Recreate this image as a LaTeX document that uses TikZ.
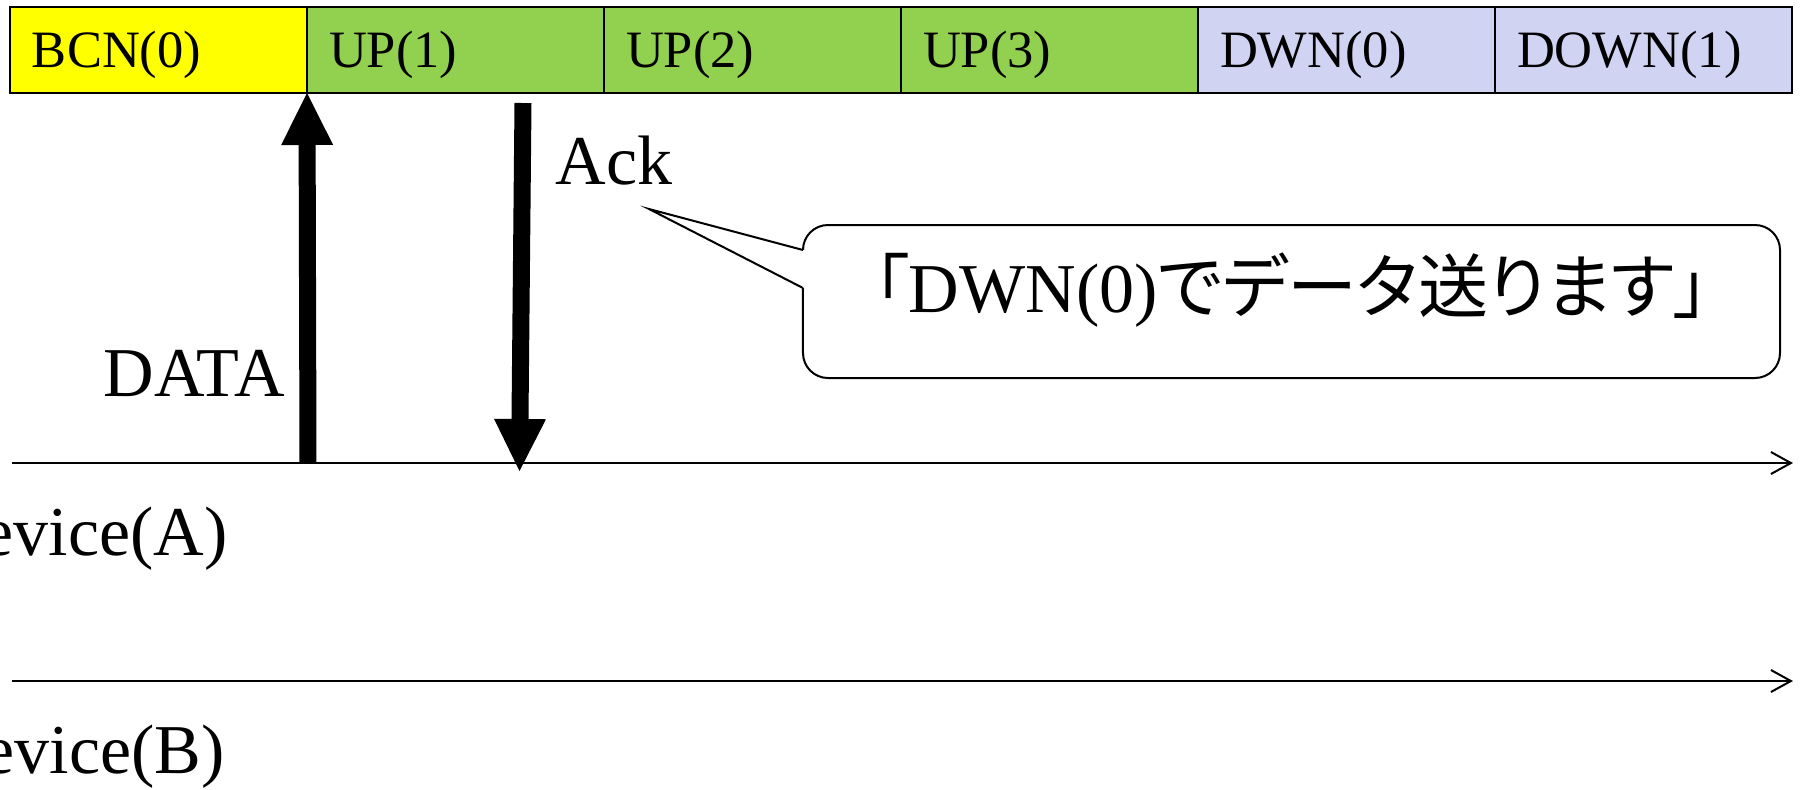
\documentclass[tikz,border=0pt]{standalone}
\usepackage{fontspec}
\setmainfont{Liberation Serif}
\newfontfamily\jpfont{Noto Sans CJK JP}[RawFeature={+palt}]
\usetikzlibrary{arrows.meta}
\definecolor{bcnyellow}{RGB}{255,255,0}
\definecolor{upgreen}{RGB}{146,208,80}
\definecolor{dwnblue}{RGB}{209,211,243}
\begin{document}
\begin{tikzpicture}[x=0.4pt,y=-0.4pt,
  cell/.style={draw, line width=1pt, anchor=north west, outer sep=0pt,
    inner ysep=0pt, inner xsep=8.8pt, text width=101.2pt, minimum height=34.4pt,
    align=left, text height=16.4pt, text depth=2.1pt,
    font=\fontsize{21pt}{25pt}\selectfont},
  bigtext/.style={font=\fontsize{28pt}{33pt}\selectfont, inner sep=0pt},
  axisline/.style={line width=0.8pt, -{Straight Barb[length=8pt,width=8.8pt]}},
  msgarrow/.style={line width=6.8pt, -{Triangle[length=20.8pt,width=20.8pt,line width=0pt]}},
  calloutbox/.style={draw, line width=0.8pt, rounded corners=10pt, fill=white,
    minimum width=390.8pt, minimum height=61.2pt, inner sep=0pt,
    text height=20pt, text depth=11.6pt, font=\fontsize{28pt}{33pt}\selectfont},
  ]
\useasboundingbox (0,0) rectangle (1802,789);
\clip (0,0) rectangle (1802,789);

% slot bar
\node[cell, fill=bcnyellow] (bcn) at (10,7) {BCN(0)};
\node[cell, fill=upgreen] (up1) at (bcn.north east) {UP(1)};
\node[cell, fill=upgreen] (up2) at (up1.north east) {UP(2)};
\node[cell, fill=upgreen] (up3) at (up2.north east) {UP(3)};
\node[cell, fill=dwnblue] (dwn0) at (up3.north east) {DWN(0)};
\node[cell, fill=dwnblue] (down1) at (dwn0.north east) {DOWN(1)};

% time axes
\coordinate (aS) at (12,463);
\coordinate (aE) at (1793,463);
\coordinate (bS) at (12,681);
\coordinate (bE) at (1793,681);
\draw[axisline] (aS) -- (aE);
\draw[axisline] (bS) -- (bE);

\node[bigtext, anchor=base east] (devA) at (228,555) {Device(A)};
\node[bigtext, anchor=base east] (devB) at (225,773) {Device(B)};

% DATA and Ack arrows
\coordinate (dataS) at (308,463);
\coordinate (dataE) at (307,93);
\coordinate (ackS) at (523,103);
\coordinate (ackE) at (519.5,471);
\draw[msgarrow] (dataS) -- (dataE);
\draw[msgarrow] (ackS) -- (ackE);

\node[bigtext, anchor=base west] (datalbl) at (103,396) {DATA};
\node[bigtext, anchor=base west] (acklbl) at (555,184) {Ack};

% callout
\node[calloutbox] (callout) at (1291.5,301.5)
  {{\jpfont 「}DWN(0){\jpfont でデータ送ります」}};
\coordinate (ptip) at (649,209);
\coordinate (pup) at (803,250);
\coordinate (plow) at (803,288);
\fill[white] (800,250) rectangle (806,288);
\draw[line width=0.8pt, line join=miter] (pup) -- (ptip) -- (plow);
\end{tikzpicture}
\end{document}
